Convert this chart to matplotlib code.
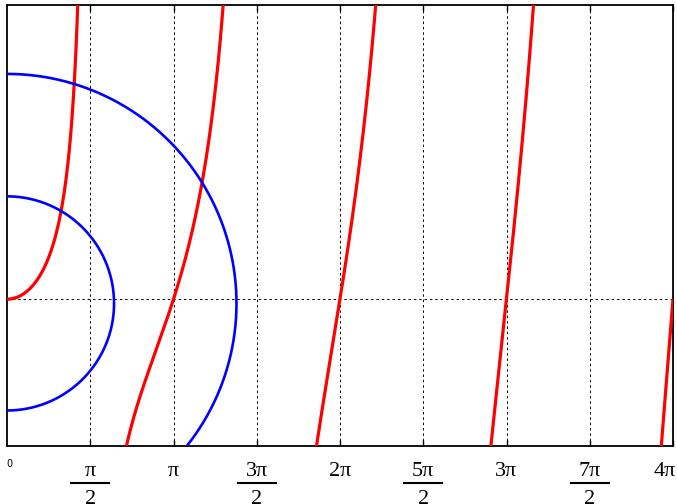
# -*- coding: utf-8 -*-
"""
x*tan(x) branches against two circles (finite well style graphic)
"""
import numpy as np
import matplotlib
matplotlib.use("Agg")
import matplotlib.pyplot as plt
from matplotlib.transforms import blended_transform_factory

# ============================  Data  ==================================
x_max     = 4 * np.pi
y_limits  = (-2.77, 5.55)
branches  = [0, 1, 2, 3, 4]          # k of x*tan(x) branch around k*pi
radii     = [2.02, 4.33]             # blue circles
circle_yc = -0.08                    # circle centre height
tick_k    = [1, 2, 3, 4, 5, 6, 7, 8] # ticks at k*pi/2
tick_num  = ['π', 'π', '3π', '2π', '5π', '3π', '7π', '4π']
tick_frac = [True, False, True, False, True, False, True, False]

# ============================  Plot  ==================================
W, H = 677, 504
fig = plt.figure(figsize=(W / 100, H / 100), dpi=100)
ax = fig.add_axes([7 / W, (H - 446) / H, 666 / W, 441 / H])

red = '#ff0000'
blue = '#0000ff'

for k in branches:
    lo = max(0.0, k * np.pi - np.pi / 2 + 1e-4)
    hi = min(x_max, k * np.pi + np.pi / 2 - 1e-4)
    x = np.linspace(lo, hi, 4000)
    y = x * np.tan(x)
    y[(y < y_limits[0] - 1) | (y > y_limits[1] + 1)] = np.nan
    ax.plot(x, y, color=red, lw=2.3, solid_capstyle='butt', zorder=3)

for r in radii:
    t = np.linspace(-np.pi / 2, np.pi / 2, 800)
    ax.plot(r * np.cos(t), circle_yc + r * np.sin(t), color=blue, lw=1.9,
            zorder=3)

for k in tick_k[:-1]:
    ax.axvline(k * np.pi / 2, color='k', lw=0.7, ls=(0, (2.5, 3)), zorder=1)
ax.axhline(0, color='k', lw=0.7, ls=(0, (2.5, 3)), zorder=1)

ax.set_xlim(0, x_max)
ax.set_ylim(*y_limits)
ax.set_xticks([k * np.pi / 2 for k in tick_k])
ax.set_xticklabels([])
ax.set_yticks([])
ax.tick_params(axis='x', direction='in', length=4, width=1, top=True,
               bottom=True, color='k')
for s in ax.spines.values():
    s.set_linewidth(1.3)

# -- tick labels drawn by hand (fractions)
tr = blended_transform_factory(ax.transData, fig.transFigure)
serif = ['Liberation Serif', 'DejaVu Serif']
fy = lambda py: (H - py) / H
fs = 16
ax.text(0.05, fy(464), '0', transform=tr, ha='center', va='center',
        fontsize=7, family='DejaVu Sans')
for k, lab, frac in zip(tick_k, tick_num, tick_frac):
    xv = k * np.pi / 2
    if k == tick_k[-1]:
        # last label kept inside the figure
        fig.text(676 / W, fy(472), lab, ha='right', va='center',
                 fontsize=fs, family=serif)
        continue
    ax.text(xv, fy(472), lab, transform=tr, ha='center', va='center',
            fontsize=fs, family=serif, clip_on=False)
    if frac:
        ax.plot([xv - 0.36, xv + 0.36], [fy(483), fy(483)], transform=tr,
                color='k', lw=1.5, clip_on=False)
        ax.text(xv, fy(490), '2', transform=tr, ha='center', va='top',
                fontsize=fs, family=serif, clip_on=False)

fig.savefig('out.png', dpi=100)
